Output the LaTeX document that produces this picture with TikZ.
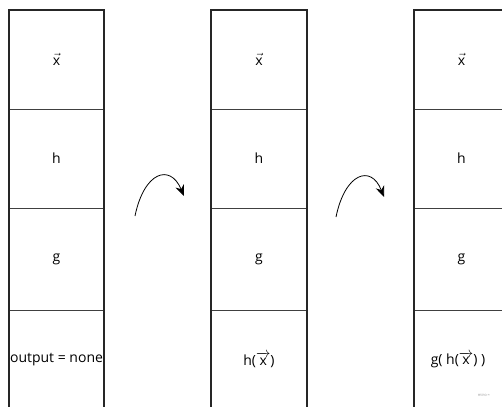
\documentclass[tikz,border=0pt]{standalone}
\usepackage{fontspec}
\setmainfont{Open Sans}
\usepackage{amsmath}
\usepackage{tikz}
\usetikzlibrary{arrows.meta}

\tikzset{
	cell/.style={shape=rectangle, inner sep=0, minimum width=95pt, minimum height=99pt, font=\fontsize{14}{16}\selectfont},
	frame/.style={line width=1.8pt, color=black!85},
	divider/.style={line width=1pt, color=black!75},
	turn/.style={line width=0.8pt, -{Stealth[length=11pt, width=9pt]}}
}

\begin{document}
\begin{tikzpicture}[x=1pt, y=-1pt]
	\useasboundingbox (0, 0) rectangle (502, 406);
	\clip (0, 0) rectangle (502, 406);
	% Paths, nodes and wires:
	\node[cell] (ax) at (56.5, 59.5) {$\vec{\text{x}}$};
	\node[cell] (ah) at (56.5, 158.5) {h};
	\node[cell, minimum height=102pt] (ag) at (56.5, 259) {g};
	\node[cell, minimum height=100pt] (ao) at (56.5, 360) {output = none};
	\node[cell] (bx) at (259, 59.5) {$\vec{\text{x}}$};
	\node[cell] (bh) at (259, 158.5) {h};
	\node[cell, minimum height=102pt] (bg) at (259, 259) {g};
	\node[cell, minimum height=100pt] (bo) at (259, 360) {h($\overrightarrow{\text{x}}$)};
	\node[cell] (cx) at (461.5, 59.5) {$\vec{\text{x}}$};
	\node[cell] (ch) at (461.5, 158.5) {h};
	\node[cell, minimum height=102pt] (cg) at (461.5, 259) {g};
	\node[cell, minimum height=100pt] (co) at (458, 360) {g( h($\overrightarrow{\text{x}}$) )};
	\draw[divider] (ax.south west) -- (ax.south east);
	\draw[divider] (ah.south west) -- (ah.south east);
	\draw[divider] (ag.south west) -- (ag.south east);
	\draw[divider] (bx.south west) -- (bx.south east);
	\draw[divider] (bh.south west) -- (bh.south east);
	\draw[divider] (bg.south west) -- (bg.south east);
	\draw[divider] (cx.south west) -- (cx.south east);
	\draw[divider] (ch.south west) -- (ch.south east);
	\draw[divider] (cg.south west) -- (cg.south east);
	\draw[frame] (ax.north west) rectangle (ao.south east);
	\draw[frame] (bx.north west) rectangle (bo.south east);
	\draw[frame] (cx.north west) rectangle (cg.south east |- ao.south east);
	\coordinate (t1a) at (135, 216);
	\coordinate (t1b) at (184, 196);
	\coordinate (t2a) at (336, 217);
	\coordinate (t2b) at (384, 197);
	\draw[turn] (t1a) .. controls (144, 172) and (170, 163) .. (t1b);
	\draw[turn] (t2a) .. controls (345, 173) and (371, 164) .. (t2b);
	\node[text=black!40, font=\fontsize{4}{5}\selectfont] (miro) at (484, 395) {miro ≈};
\end{tikzpicture}
\end{document}
